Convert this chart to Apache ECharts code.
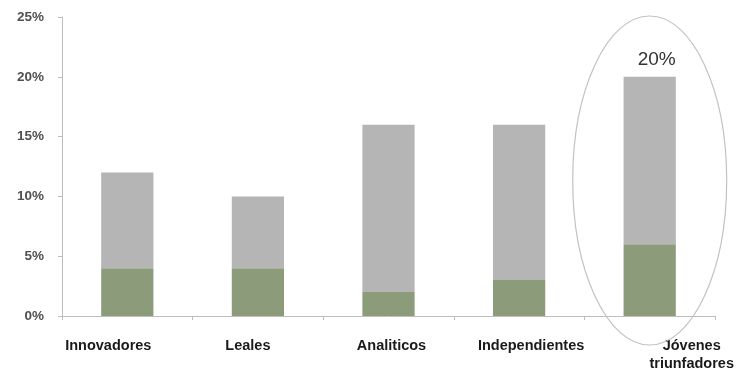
<!DOCTYPE html>
<html>
<head>
<meta charset="utf-8">
<script src="https://cdn.jsdelivr.net/npm/echarts@6/dist/echarts.min.js"></script>
<style>
  html, body { margin: 0; padding: 0; background: #ffffff; }
  #chart { width: 737px; height: 371px; }
</style>
</head>
<body>
<div id="chart"></div>
<script>
// Segment names along the x axis
const categories = ['Innovadores', 'Leales', 'Analiticos', 'Independientes', 'Jóvenes\ntriunfadores'];
// Lower (green) share of each segment, in %
const lowerShare = [4, 4, 2, 3, 6];
// Total share of each segment, in %
const totalShare = [12, 10, 16, 16, 20];
// Upper (gray) part = total minus the lower part
const upperShare = totalShare.map((t, i) => t - lowerShare[i]);
// Y axis ticks
const yTicks = [0, 5, 10, 15, 20, 25];
// Highlighted segment and its callout
const highlightIndex = 4;
const highlightLabel = '20%';

// Small horizontal nudges for the category labels
const labelPad = [[0, 38, 0, 0], [0, 20, 0, 0], [0, 0, 0, 6], [0, 0, 0, 24], [0, 0, 0, 84]];

const chart = echarts.init(document.getElementById('chart'), null, { renderer: 'canvas' });

const option = {
  backgroundColor: '#ffffff',
  animation: false,
  grid: { left: 62, right: 22, top: 17, bottom: 55, containLabel: false, outerBoundsMode: 'none' },
  xAxis: {
    type: 'category',
    data: categories.map((c, i) => ({ value: c, textStyle: { padding: labelPad[i] } })),
    axisLine: { lineStyle: { color: '#bdbdbd', width: 1 } },
    axisTick: { show: true, length: 4, lineStyle: { color: '#bdbdbd' } },
    axisLabel: {
      margin: 21,
      color: '#1a1a1a',
      fontFamily: 'Liberation Sans, Arial, sans-serif',
      fontWeight: 'bold',
      fontSize: 14.5,
      lineHeight: 18,
      interval: 0
    }
  },
  yAxis: {
    type: 'value',
    min: yTicks[0],
    max: yTicks[yTicks.length - 1],
    interval: 5,
    splitLine: { show: false },
    axisLine: { show: true, lineStyle: { color: '#bdbdbd', width: 1 } },
    axisTick: { show: true, length: 4, lineStyle: { color: '#bdbdbd' } },
    axisLabel: {
      margin: 18,
      color: '#505050',
      fontFamily: 'Liberation Sans, Arial, sans-serif',
      fontWeight: 'bold',
      fontSize: 13.5,
      formatter: v => v + '%'
    }
  },
  series: [
    {
      name: 'base',
      type: 'bar',
      stack: 'total',
      barWidth: '40%',
      data: lowerShare,
      itemStyle: { color: '#8c9b7a' }
    },
    {
      name: 'resto',
      type: 'bar',
      stack: 'total',
      barWidth: '40%',
      data: upperShare.map((v, i) => i === highlightIndex ? {
        value: v,
        label: {
          show: true,
          position: 'top',
          distance: 8,
          offset: [7, 0],
          formatter: highlightLabel,
          color: '#333333',
          fontFamily: 'Liberation Sans, Arial, sans-serif',
          fontSize: 19
        }
      } : v),
      itemStyle: { color: '#b5b5b5' }
    }
  ]
};

chart.setOption(option);

// Oval drawn around the highlighted segment
const basePx = chart.convertToPixel({ gridIndex: 0 }, [highlightIndex, 0]);
const topPx = chart.convertToPixel({ gridIndex: 0 }, [highlightIndex, yTicks[yTicks.length - 1]]);
const ovalTop = topPx[1] - 1;
const ovalBottom = basePx[1] + 29;
chart.setOption({
  graphic: [{
    type: 'ellipse',
    shape: { cx: basePx[0], cy: (ovalTop + ovalBottom) / 2, rx: 77, ry: (ovalBottom - ovalTop) / 2 },
    style: { fill: 'none', stroke: '#c2c2c2', lineWidth: 1.2 },
    z: 10
  }]
});
</script>
</body>
</html>
